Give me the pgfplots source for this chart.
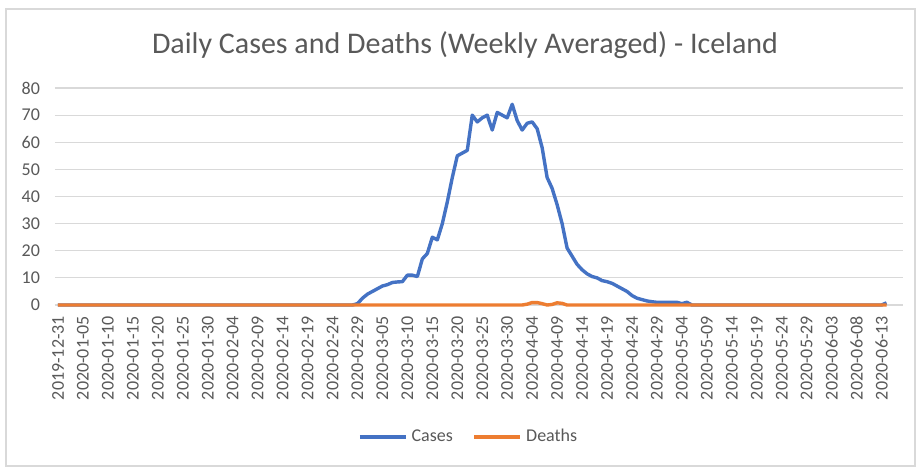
\documentclass[border=0pt]{standalone}
\usepackage{pgfplots}
\pgfplotsset{compat=1.18}
\usepackage{fontspec}
\setmainfont{Carlito}
\definecolor{casesblue}{HTML}{4472C4}
\definecolor{deathsorange}{HTML}{ED7D31}
\definecolor{txtgray}{HTML}{595959}
\definecolor{gridgray}{HTML}{D9D9D9}
\begin{document}
\begin{tikzpicture}[x=0.5pt,y=0.5pt]
% canvas 920x471 px (y up: pt = (471-ypx)*0.5)
\fill[white] (0,0) rectangle (920,471);
\draw[gridgray,line width=0.6pt] (6,5) rectangle (915,462);
\node[text=txtgray,font=\fontsize{15}{17}\selectfont] at (465,426) {Daily Cases and Deaths (Weekly Averaged) - Iceland};
\begin{axis}[
  at={(27.5pt,83pt)}, anchor=south west,
  scale only axis, width=424pt, height=108.5pt,
  xmin=-0.6, xmax=169.3, ymin=0, ymax=80,
  axis line style={draw=none},
  ymajorgrids, grid style={gridgray,line width=0.6pt},
  ytick={0,10,...,80},
  xtick={0,5,...,165},
  xticklabels={2019-12-31,2020-01-05,2020-01-10,2020-01-15,2020-01-20,2020-01-25,2020-01-30,2020-02-04,2020-02-09,2020-02-14,2020-02-19,2020-02-24,2020-02-29,2020-03-05,2020-03-10,2020-03-15,2020-03-20,2020-03-25,2020-03-30,2020-04-04,2020-04-09,2020-04-14,2020-04-19,2020-04-24,2020-04-29,2020-05-04,2020-05-09,2020-05-14,2020-05-19,2020-05-24,2020-05-29,2020-06-03,2020-06-08,2020-06-13},
  x tick label style={rotate=90,anchor=east,font=\fontsize{9}{10}\selectfont,text=txtgray},
  y tick label style={font=\fontsize{9}{10}\selectfont,text=txtgray},
  /pgf/number format/assume math mode=true,
  xticklabel shift=2pt, yticklabel shift=4pt,
  major tick length=0pt,
  legend style={at={(0.489,-0.608)},anchor=center,draw=none,fill=none,
    legend columns=2,font=\fontsize{9}{10}\selectfont,text=txtgray,
    /tikz/every even column/.append style={column sep=8pt}},
  legend image code/.code={\draw[#1] (0pt,0pt) -- (23pt,0pt);},
  clip=false,
]
\draw[gridgray,line width=0.8pt] (axis cs:-0.6,0) -- (axis cs:169.3,0);
\addplot[casesblue,line width=1.7pt,line join=round] coordinates {
(0,0) (59,0) (60,0.5) (61,2.5) (62,4) (63,5) (64,6) (65,7) (66,7.5) (67,8.3) (68,8.5) (69,8.6)
(70,11) (71,11) (72,10.5) (73,17) (74,19) (75,25) (76,24) (77,30) (78,38) (79,47)
(80,55) (81,56) (82,57) (83,70) (84,67.5) (85,69) (86,70) (87,64.5) (88,71) (89,70)
(90,69) (91,74) (92,68) (93,64.5) (94,67) (95,67.5) (96,65) (97,58) (98,47) (99,43)
(100,37) (101,30) (102,21) (103,18) (104,15) (105,13) (106,11.5) (107,10.5) (108,10) (109,9)
(110,8.6) (111,8) (112,7) (113,6) (114,5) (115,3.5) (116,2.5) (117,2) (118,1.5) (119,1.2)
(120,1) (121,1) (122,1) (123,1) (124,1) (125,0.5) (126,1) (127,0)
(165,0) (166,0.8)
};
\addlegendentry{Cases}
\addplot[deathsorange,line width=1.7pt,line join=round] coordinates {
(0,0) (93,0) (94,0.3) (95,0.9) (96,0.9) (97,0.5) (98,0) (99,0.2) (100,0.8) (101,0.6) (102,0) (166,0)
};
\addlegendentry{Deaths}
\end{axis}
\end{tikzpicture}
\end{document}
